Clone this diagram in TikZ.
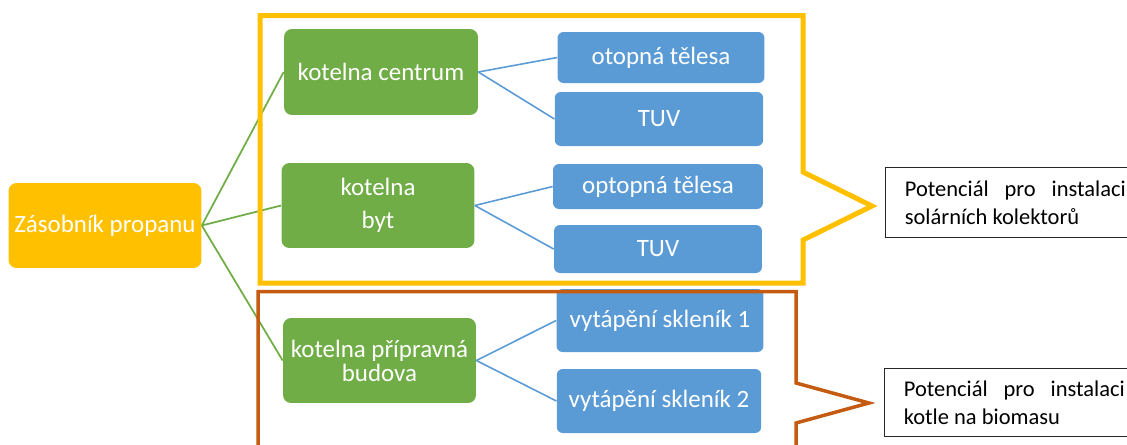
\documentclass[tikz,border=0pt]{standalone}
\usepackage{fontspec}
\setmainfont{Carlito}
\usepackage{tikz}

\definecolor{propan}{HTML}{FFC000}
\definecolor{kotel}{HTML}{70AD47}
\definecolor{spotreba}{HTML}{5B9BD5}
\definecolor{biomasa}{HTML}{C55A11}

\begin{document}
\begin{tikzpicture}%
        [x={(0.02cm,0cm)},
        y={(0cm,-0.02cm)},
        tank/.style={fill=propan,text=white,rounded corners=0.16cm,align=center,
                     font=\fontsize{14.2}{17}\selectfont},
        boiler/.style={fill=kotel,text=white,rounded corners=0.16cm,align=center,
                       minimum width=3.86cm,minimum height=1.7cm,
                       font=\fontsize{14.2}{17}\selectfont},
        consumer/.style={fill=spotreba,text=white,rounded corners=0.12cm,align=center,
                         font=\fontsize{14.2}{17}\selectfont},
        note/.style={draw=black!85,thin,anchor=north west,align=left,inner xsep=0.33cm,
                     minimum width=5.2cm,font=\fontsize{12.8}{15.9}\selectfont},
        greenline/.style={color=kotel,line width=1pt},
        blueline/.style={color=spotreba,line width=0.9pt},
        solarframe/.style={color=propan,line width=0.1cm,line join=miter},
        bioframe/.style={color=biomasa,line width=0.07cm,line join=miter}]
%
\useasboundingbox (0,0) rectangle (1127,444);
\clip (0,0) rectangle (1127,444);
%%
%% Zasobnik a kotelny
%%
\node[tank,minimum width=3.86cm,minimum height=1.7cm] (zasobnik) at (105,225.5) {Zásobník propanu};

\node[boiler,minimum width=3.88cm,minimum height=1.72cm] (centrum) at (381,72) {kotelna centrum};
\node[boiler,font=\fontsize{14.2}{18.7}\selectfont] (byt) at (378,205.5) {kotelna\\byt};
\node[boiler,font=\fontsize{14.2}{13.6}\selectfont] (pripravna) at (379.5,360.5) {kotelna přípravná\\budova};
%%
%% Spotrebice
%%
\node[consumer,minimum width=4.14cm,minimum height=1.02cm] (telesaA) at (661,57.5) {otopná tělesa};
\node[consumer,minimum width=4.17cm,minimum height=1.08cm] (tuvA) at (659,119) {TUV};
\node[consumer,minimum width=4.2cm,minimum height=0.9cm] (telesaB) at (658,186.5) {optopná tělesa};
\node[consumer,minimum width=4.16cm,minimum height=0.96cm] (tuvB) at (658,249) {TUV};
\node[consumer,minimum width=4.14cm,minimum height=1.26cm] (sklenikA) at (660,320.5) {vytápění skleník 1};
\node[consumer,minimum width=4.09cm,minimum height=1.28cm] (sklenikB) at (659,401) {vytápění skleník 2};
%%
%% Spojnice
%%
\draw[greenline] (zasobnik.east) -- (centrum.west);
\draw[greenline] (zasobnik.east) -- (byt.west);
\draw[greenline] (zasobnik.east) -- (pripravna.west);

\draw[blueline] (centrum.east) -- (telesaA.west);
\draw[blueline] (centrum.east) -- (tuvA.west);
\draw[blueline] (byt.east) -- (telesaB.west);
\draw[blueline] (byt.east) -- (tuvB.west);
\draw[blueline] (pripravna.east) -- (sklenikA.west);
\draw[blueline] (pripravna.east) -- (sklenikB.west);
%%
%% Ramecky s potencialem
%%
\draw[solarframe] (260,15.5) -- (803,15.5) -- (803,172) -- (872,206) -- (803,240) -- (803,283) -- (260,283) -- cycle;
\draw[bioframe] (258,470) -- (258,291.5) -- (796,291.5) -- (796,383) -- (869,403) -- (796,423) -- (796,470);

\node[note,minimum height=1.4cm] (solarni) at (885,167)
    {\makebox[4.42cm][s]{Potenciál pro instalaci}\\solárních kolektorů};
\node[note,minimum height=1.36cm] (kotle) at (884,368)
    {\makebox[4.42cm][s]{Potenciál pro instalaci}\\kotle na biomasu};

\end{tikzpicture}
\end{document}
